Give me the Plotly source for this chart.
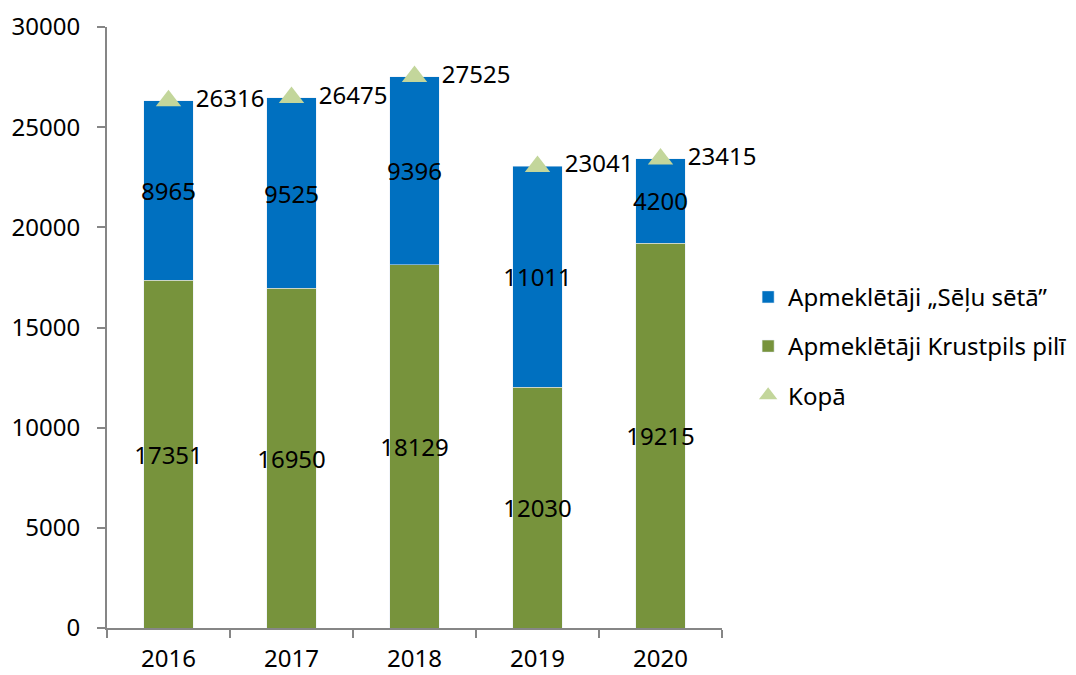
import plotly.graph_objects as go

years = ['2016', '2017', '2018', '2019', '2020']
krustpils = [17351, 16950, 18129, 12030, 19215]
selu_seta = [8965, 9525, 9396, 11011, 4200]
kopa = [26316, 26475, 27525, 23041, 23415]

font_name = 'Noto Sans'
fsize = 24
axis_col = '#868686'

fig = go.Figure()

fig.add_trace(go.Bar(x = years, y = krustpils, name = 'Apmeklētāji Krustpils pilī',
                     marker_color = '#77933c', width = 0.4, legendrank = 2, legendgroup = 'b',
                     text = krustpils, textposition = 'inside', insidetextanchor = 'middle',
                     textangle = 0, constraintext = 'none',
                     textfont = dict(color = 'black', size = fsize, family = font_name)))
fig.add_trace(go.Bar(x = years, y = selu_seta, name = 'Apmeklētāji „Sēļu sētā”',
                     marker_color = '#0070c0', width = 0.4, legendrank = 1, legendgroup = 'a',
                     text = selu_seta, textposition = 'inside', insidetextanchor = 'middle',
                     textangle = 0, constraintext = 'none',
                     textfont = dict(color = 'black', size = fsize, family = font_name)))
fig.add_trace(go.Scatter(x = years, y = kopa, name = 'Kopā', mode = 'markers+text',
                         marker = dict(symbol = 'triangle-up', size = 22, color = '#c3d69b'),
                         text = ['  ' + str(v) for v in kopa], textposition = 'middle right',
                         legendrank = 3, legendgroup = 'c', cliponaxis = False,
                         textfont = dict(color = 'black', size = fsize, family = font_name)))

# the page adds an 8px body margin, so the figure is 8px smaller each way
fig.update_layout(
    width = 1068, height = 667,
    barmode = 'stack',
    plot_bgcolor = 'white', paper_bgcolor = 'white',
    margin = dict(l = 99, r = 354, t = 19, b = 47),
    font = dict(family = font_name, size = fsize, color = 'black'),
    legend = dict(xref = 'container', yref = 'container', x = 0.693, y = 0.6,
                  xanchor = 'left', yanchor = 'top',
                  traceorder = 'grouped', tracegroupgap = 15,
                  font = dict(size = fsize, family = font_name)),
    xaxis = dict(showline = True, linecolor = axis_col, linewidth = 2,
                 ticks = 'outside', tickson = 'boundaries', ticklen = 8,
                 tickcolor = axis_col, tickwidth = 2, showgrid = False,
                 automargin = False, ticklabelstandoff = 8),
    yaxis = dict(range = [0, 30000], dtick = 5000, showline = True,
                 linecolor = axis_col, linewidth = 2, ticks = 'outside',
                 ticklen = 8, tickcolor = axis_col, tickwidth = 2,
                 showgrid = False, zeroline = False, tickformat = 'd',
                 automargin = False, ticklabelstandoff = 12),
)

fig.write_html("out.html")
